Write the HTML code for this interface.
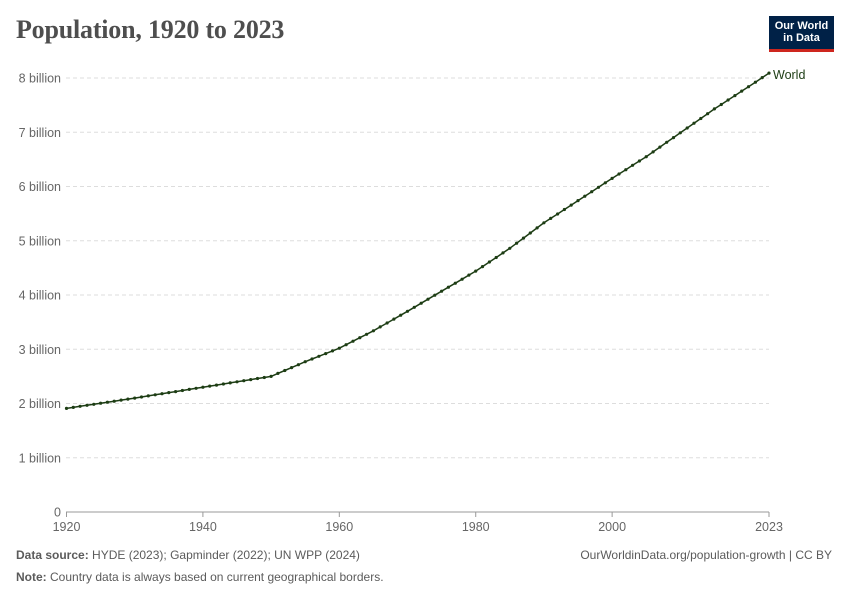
<!DOCTYPE html>
<html><head><meta charset="utf-8"><style>
body{margin:0;background:#fff;font-family:"Liberation Sans",sans-serif;}
#wrap{position:relative;width:850px;height:600px;overflow:hidden;}
h1{position:absolute;left:16px;top:15px;margin:0;font-family:"Liberation Serif",serif;font-weight:bold;font-size:26px;color:#4e4e4e;letter-spacing:-0.2px;}
.logo{position:absolute;left:769px;top:16px;width:65px;height:36px;background:#002147;color:#fff;font-size:11px;font-weight:bold;line-height:12px;text-align:center;padding-top:4px;box-sizing:border-box;border-bottom:3px solid #ce261e;}
.foot{position:absolute;font-size:12px;color:#5b5b5b;}
.foot b{color:#5b5b5b;}
</style></head><body><div id="wrap">
<h1>Population, 1920 to 2023</h1>
<div class="logo">Our World<br>in Data</div>
<svg id="s" width="850" height="600" style="position:absolute;left:0;top:0"></svg>
<div class="foot" style="left:16px;top:548px"><b>Data source:</b> HYDE (2023); Gapminder (2022); UN WPP (2024)</div>
<div class="foot" style="right:18px;top:548px">OurWorldinData.org/population-growth | CC BY</div>
<div class="foot" style="left:16px;top:570px"><b>Note:</b> Country data is always based on current geographical borders.</div>
</div>
<script>
var s=document.getElementById('s'),h='';
function X(y){return 66.5+(y-1920)*(769-66.5)/103;}
function Y(v){return 512-v*54.25;}
var labs=['0','1 billion','2 billion','3 billion','4 billion','5 billion','6 billion','7 billion','8 billion'];
for(var i=0;i<=8;i++){var y=Y(i);
 if(i>0)h+='<line x1="66" x2="769" y1="'+y+'" y2="'+y+'" stroke="#ddd" stroke-dasharray="4,3"/>';
 h+='<text x="61" y="'+(y+4.5)+'" text-anchor="end" font-size="12.5" fill="#666" font-family="Liberation Sans">'+labs[i]+'</text>';}
h+='<line x1="66" x2="769" y1="512" y2="512" stroke="#999"/>';
[1920,1940,1960,1980,2000,2023].forEach(function(t){var x=X(t);
 h+='<line x1="'+x+'" x2="'+x+'" y1="512" y2="517" stroke="#999"/>';
 h+='<text x="'+x+'" y="531" text-anchor="middle" font-size="12.5" fill="#666" font-family="Liberation Sans">'+t+'</text>';});
var k=[[1920,1.91],[1930,2.1],[1940,2.3],[1950,2.5],[1955,2.77],[1960,3.02],[1965,3.34],[1970,3.70],[1975,4.07],[1980,4.44],[1985,4.86],[1990,5.33],[1995,5.74],[2000,6.15],[2005,6.55],[2010,6.99],[2015,7.43],[2020,7.84],[2023,8.09]];
var pts=[];
for(var yr=1920;yr<=2023;yr++){
 for(var j=0;j<k.length-1;j++)if(yr>=k[j][0]&&yr<=k[j+1][0]){var f=(yr-k[j][0])/(k[j+1][0]-k[j][0]);pts.push([X(yr),Y(k[j][1]+f*(k[j+1][1]-k[j][1]))]);break;}}
h+='<polyline fill="none" stroke="#1d3d14" stroke-width="1.5" points="'+pts.map(function(p){return p[0].toFixed(1)+','+p[1].toFixed(1)}).join(' ')+'"/>';
pts.forEach(function(p){h+='<circle cx="'+p[0].toFixed(1)+'" cy="'+p[1].toFixed(1)+'" r="1.6" fill="#1d3d14"/>';});
h+='<text x="773" y="79" font-size="12.5" fill="#1d3d14" font-family="Liberation Sans">World</text>';
s.innerHTML=h;
</script></body></html>
